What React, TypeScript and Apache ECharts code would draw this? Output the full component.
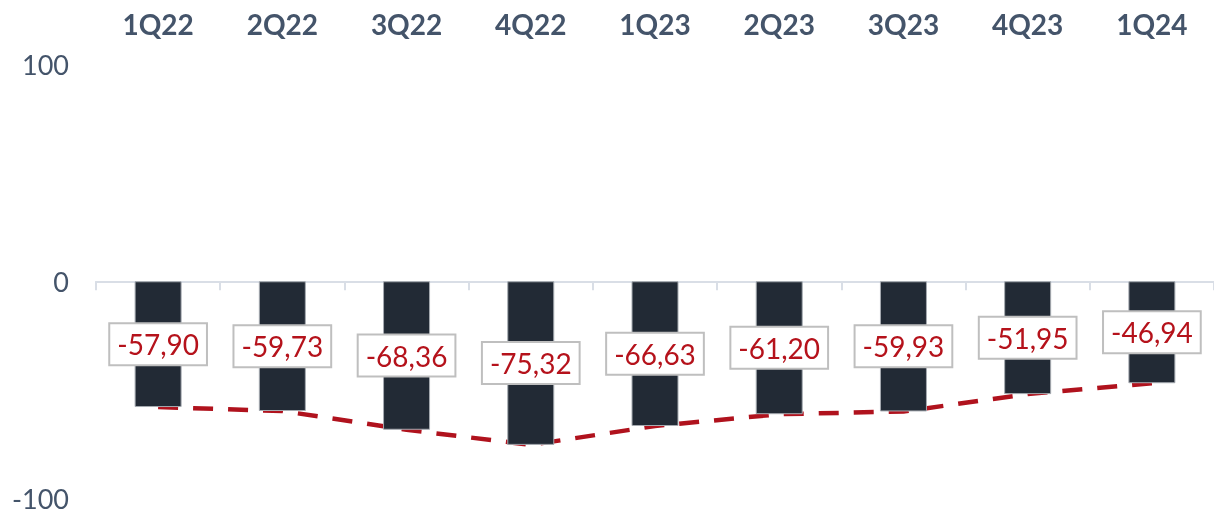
import React, { useEffect, useRef } from "react";
import * as echarts from "echarts";

const categories = ["1Q22", "2Q22", "3Q22", "4Q22", "1Q23", "2Q23", "3Q23", "4Q23", "1Q24"];
const values = [-57.9, -59.73, -68.36, -75.32, -66.63, -61.2, -59.93, -51.95, -46.94];
const yTicks = [-100, 0, 100];

const fmt = (v: number) => v.toFixed(2).replace(".", ",");

export default function App() {
  const ref = useRef<HTMLDivElement>(null);
  useEffect(() => {
    document.body.style.margin = "0";
    const chart = echarts.init(ref.current!, null, { renderer: "svg" });
    chart.setOption({
      animation: false,
      grid: { left: 96, right: -9, top: 64, bottom: 13 },
      xAxis: [
        {
          type: "category",
          data: categories,
          position: "bottom",
          axisLine: { onZero: true, lineStyle: { color: "#d9dee6", width: 2 } },
          axisTick: { show: true, length: 9, lineStyle: { color: "#d9dee6", width: 2 } },
          axisLabel: { show: false },
        },
        {
          type: "category",
          data: categories,
          position: "top",
          axisLine: { show: false, onZero: false },
          axisTick: { show: false },
          axisLabel: {
            color: "#44546a",
            fontFamily: "Lato",
            fontWeight: "bold",
            fontSize: 28,
            margin: 26,
          },
        },
      ],
      yAxis: {
        type: "value",
        min: yTicks[0],
        max: yTicks[yTicks.length - 1],
        interval: 100,
        splitLine: { show: false },
        axisLine: { show: false },
        axisTick: { show: false },
        axisLabel: {
          color: "#44546a",
          fontFamily: "Lato",
          fontSize: 27,
          lineHeight: 22,
          margin: 27,
        },
      },
      series: [
        {
          type: "line",
          xAxisIndex: 0,
          data: values,
          symbol: "none",
          z: 1,
          lineStyle: { color: "#b0121d", width: 4.5, type: [20, 15] },
        },
        {
          type: "bar",
          xAxisIndex: 0,
          data: values,
          barWidth: 47,
          z: 2,
          itemStyle: { color: "#222a35", borderColor: "#a6abb1", borderWidth: 1 },
          label: {
            show: true,
            position: "inside",
            formatter: (p: any) => fmt(p.value),
            color: "#b5121b",
            fontFamily: "Lato",
            fontSize: 28,
            backgroundColor: "#ffffff",
            borderColor: "#bfbfbf",
            borderWidth: 2,
            padding: [7, 7, 5, 7],
          },
        },
      ],
    });
    return () => chart.dispose();
  }, []);
  return <div ref={ref} style={{ width: 1214, height: 512, position: "fixed", left: 0, top: 0 }} />;
}
